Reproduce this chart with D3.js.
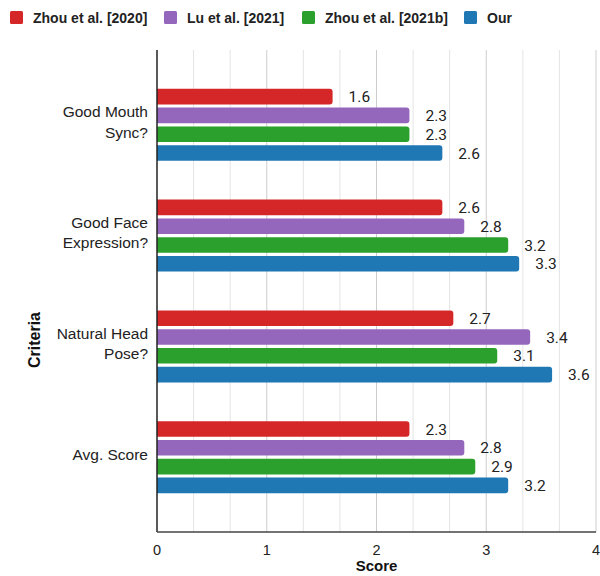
<!DOCTYPE html>
<html>
<head>
<meta charset="utf-8">
<script src="https://cdn.jsdelivr.net/npm/d3@7"></script>
<style>
body { margin:0; background:#fff; }
svg { display:block; }
</style>
</head>
<body>
<svg class="graph1"></svg>
<script>
// chart data
var criteria = [["Good Mouth", "Sync?"], ["Good Face", "Expression?"], ["Natural Head", "Pose?"], ["Avg. Score"]];
var methods = ["Zhou et al. [2020]", "Lu et al. [2021]", "Zhou et al. [2021b]", "Our"];
var zhou2020 = [1.6, 2.6, 2.7, 2.3];
var lu2021 = [2.3, 2.8, 3.4, 2.8];
var zhou2021b = [2.3, 3.2, 3.1, 2.9];
var ours = [2.6, 3.3, 3.6, 3.2];
var xTicks = [0, 1, 2, 3, 4];
var colors = ["#d62728", "#9467bd", "#2ca02c", "#1f77b4"];

var series = [zhou2020, lu2021, zhou2021b, ours];

var screen = {width:600, height:576}
var margins = {left:157, right:4, top:50, bottom:44}
var graph = {
    width:screen.width - margins.left - margins.right,
    height:screen.height - margins.top - margins.bottom
}

var svg = d3.select(".graph1")
    .attr("width", screen.width)
    .attr("height", screen.height)

var xScale = d3.scaleLinear()
    .domain([0, 4])
    .range([0, graph.width])

var yScale = d3.scaleBand()
    .domain(d3.range(criteria.length))
    .range([0, graph.height])
    .paddingInner(0.35)
    .paddingOuter(0.35)

var subScale = d3.scaleBand()
    .domain(d3.range(methods.length))
    .range([0, yScale.bandwidth()])
    .paddingInner(0.17)

var target = svg.append("g")
    .attr("transform", "translate(" + margins.left + "," + margins.top + ")")

// grid lines every third of a unit
var gridVals = d3.range(1, 13).map(function(d){ return d / 3; })
target.append("g")
    .selectAll("line")
    .data(gridVals)
    .enter()
    .append("line")
    .attr("x1", function(d){ return xScale(d); })
    .attr("x2", function(d){ return xScale(d); })
    .attr("y1", 0)
    .attr("y2", graph.height)
    .attr("stroke", function(d, i){ return (i % 3 == 2) ? "#cccccc" : "#e4e4e4"; })
    .attr("stroke-width", 1)

// rounded bar end
var barPath = function(w, h)
{
    var r = Math.min(3, w);
    return "M0,0 H" + (w - r) + " Q" + w + ",0 " + w + "," + r +
        " V" + (h - r) + " Q" + w + "," + h + " " + (w - r) + "," + h + " H0 Z";
}

var groups = target.selectAll(".grp")
    .data(criteria)
    .enter()
    .append("g")
    .attr("transform", function(d, i){ return "translate(0," + yScale(i) + ")"; })

groups.each(function(c, ci){
    var g = d3.select(this);
    series.forEach(function(s, si){
        var y = subScale(si);
        var h = subScale.bandwidth();
        g.append("path")
            .attr("d", barPath(xScale(s[ci]), h))
            .attr("transform", "translate(0," + y + ")")
            .attr("fill", colors[si])
        g.append("text")
            .text(s[ci].toFixed(1))
            .attr("x", xScale(s[ci]) + 16)
            .attr("y", y + h / 2)
            .attr("dy", "0.36em")
            .attr("font-family", "Roboto, sans-serif")
            .attr("font-size", 15.5)
            .attr("fill", "#222")
    });
    var lines = c;
    var t = g.append("text")
        .attr("text-anchor", "end")
        .attr("font-family", "'Liberation Sans', Arial, sans-serif")
        .attr("font-size", 15.5)
        .attr("fill", "#222")
    lines.forEach(function(l, li){
        t.append("tspan")
            .text(l)
            .attr("x", -9)
            .attr("y", yScale.bandwidth() / 2 + (li - (lines.length - 1) / 2) * 20.5 - 3)
            .attr("dy", "0.36em")
    });
});

// axes
target.append("line")
    .attr("x1", 0).attr("x2", 0)
    .attr("y1", 0).attr("y2", graph.height)
    .attr("stroke", "#222").attr("stroke-width", 1.5)

target.append("line")
    .attr("x1", 0).attr("x2", graph.width)
    .attr("y1", graph.height).attr("y2", graph.height)
    .attr("stroke", "#444").attr("stroke-width", 1.5)

target.append("g")
    .selectAll("text")
    .data(xTicks)
    .enter()
    .append("text")
    .text(function(d){ return d; })
    .attr("x", function(d){ return xScale(d); })
    .attr("y", graph.height + 18)
    .attr("dy", "0.36em")
    .attr("text-anchor", "middle")
    .attr("font-family", "'Liberation Sans', Arial, sans-serif")
    .attr("font-size", 14.5)
    .attr("fill", "#222")

// axis titles
svg.append("text")
    .text("Score")
    .attr("x", margins.left + graph.width / 2)
    .attr("y", 566)
    .attr("dy", "0.36em")
    .attr("text-anchor", "middle")
    .attr("font-family", "'Liberation Sans', Arial, sans-serif")
    .attr("font-weight", "bold")
    .attr("font-size", 15)
    .attr("fill", "#111")

svg.append("g")
    .attr("transform", "translate(34,340)")
    .append("text")
    .text("Criteria")
    .attr("transform", "rotate(-90)")
    .attr("text-anchor", "middle")
    .attr("dy", "0.36em")
    .attr("font-family", "'Liberation Sans', Arial, sans-serif")
    .attr("font-weight", "bold")
    .attr("font-size", 16)
    .attr("fill", "#111")

// legend
var legendX = [10, 164, 302, 464];
var legend = svg.append("g")
    .selectAll("g")
    .data(methods)
    .enter()
    .append("g")
    .attr("transform", function(d, i){ return "translate(" + legendX[i] + ",11)"; })

legend.append("rect")
    .attr("width", 13).attr("height", 13).attr("rx", 1.5)
    .attr("fill", function(d, i){ return colors[i]; })

legend.append("text")
    .text(function(d){ return d; })
    .attr("x", 23)
    .attr("y", 6.5)
    .attr("dy", "0.36em")
    .attr("font-family", "'Liberation Sans', Arial, sans-serif")
    .attr("font-weight", "bold")
    .attr("font-size", 14)
    .attr("fill", "#222")
</script>
</body>
</html>
